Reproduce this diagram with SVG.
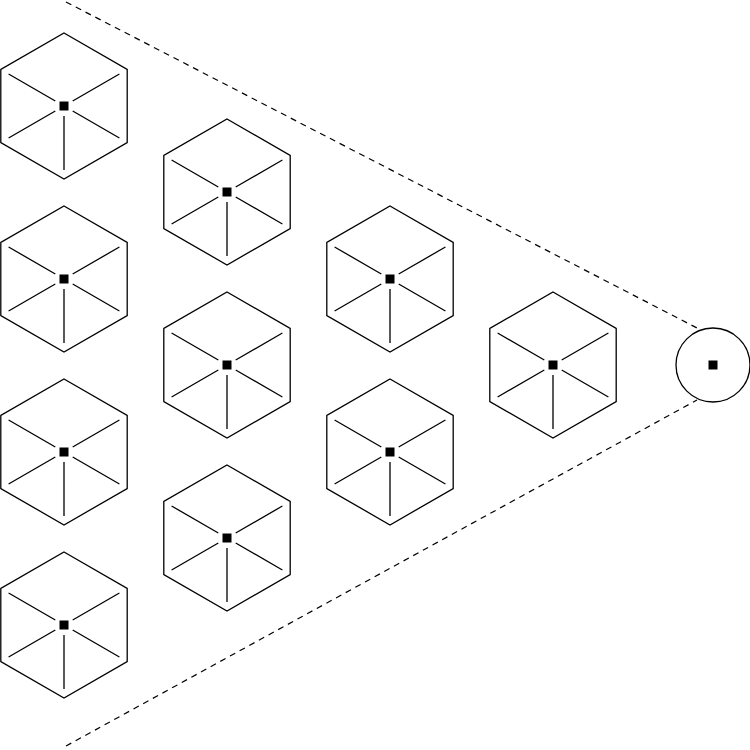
<svg xmlns="http://www.w3.org/2000/svg" xmlns:xlink="http://www.w3.org/1999/xlink" width="750" height="750" viewBox="0 0 750 750">
<style>.s{fill:none;stroke:#000;stroke-width:1.3}.d{stroke:#000;stroke-width:1.2;stroke-dasharray:6,5;fill:none}</style>
<defs>
<g id="hex">
<polygon class="s" points="0,-73 63.2,-36.5 63.2,36.5 0,73 -63.2,36.5 -63.2,-36.5"/>
<path class="s" d="M-8.7,-5 L-55.4,-32 M8.7,-5 L55.4,-32 M-8.7,5 L-55.4,32 M8.7,5 L55.4,32 M0,10 L0,64"/>
<rect x="-4.5" y="-4.5" width="9" height="9" fill="#000"/>
</g>
</defs>
<g id="connectors">
<path class="d" d="M66,2 L697,328"/>
<path class="d" d="M66,746 L697,400"/>
</g>
<g id="n1"><use xlink:href="#hex" x="64" y="106"/></g>
<g id="n2"><use xlink:href="#hex" x="64" y="279"/></g>
<g id="n3"><use xlink:href="#hex" x="64" y="452"/></g>
<g id="n4"><use xlink:href="#hex" x="64" y="625"/></g>
<g id="n5"><use xlink:href="#hex" x="227" y="192"/></g>
<g id="n6"><use xlink:href="#hex" x="227" y="365"/></g>
<g id="n7"><use xlink:href="#hex" x="227" y="538"/></g>
<g id="n8"><use xlink:href="#hex" x="390" y="279"/></g>
<g id="n9"><use xlink:href="#hex" x="390" y="452"/></g>
<g id="n10"><use xlink:href="#hex" x="553" y="365"/></g>
<g id="n11"><circle class="s" cx="713" cy="365" r="37"/><rect x="708.5" y="360.5" width="9" height="9" fill="#000"/></g>
</svg>
